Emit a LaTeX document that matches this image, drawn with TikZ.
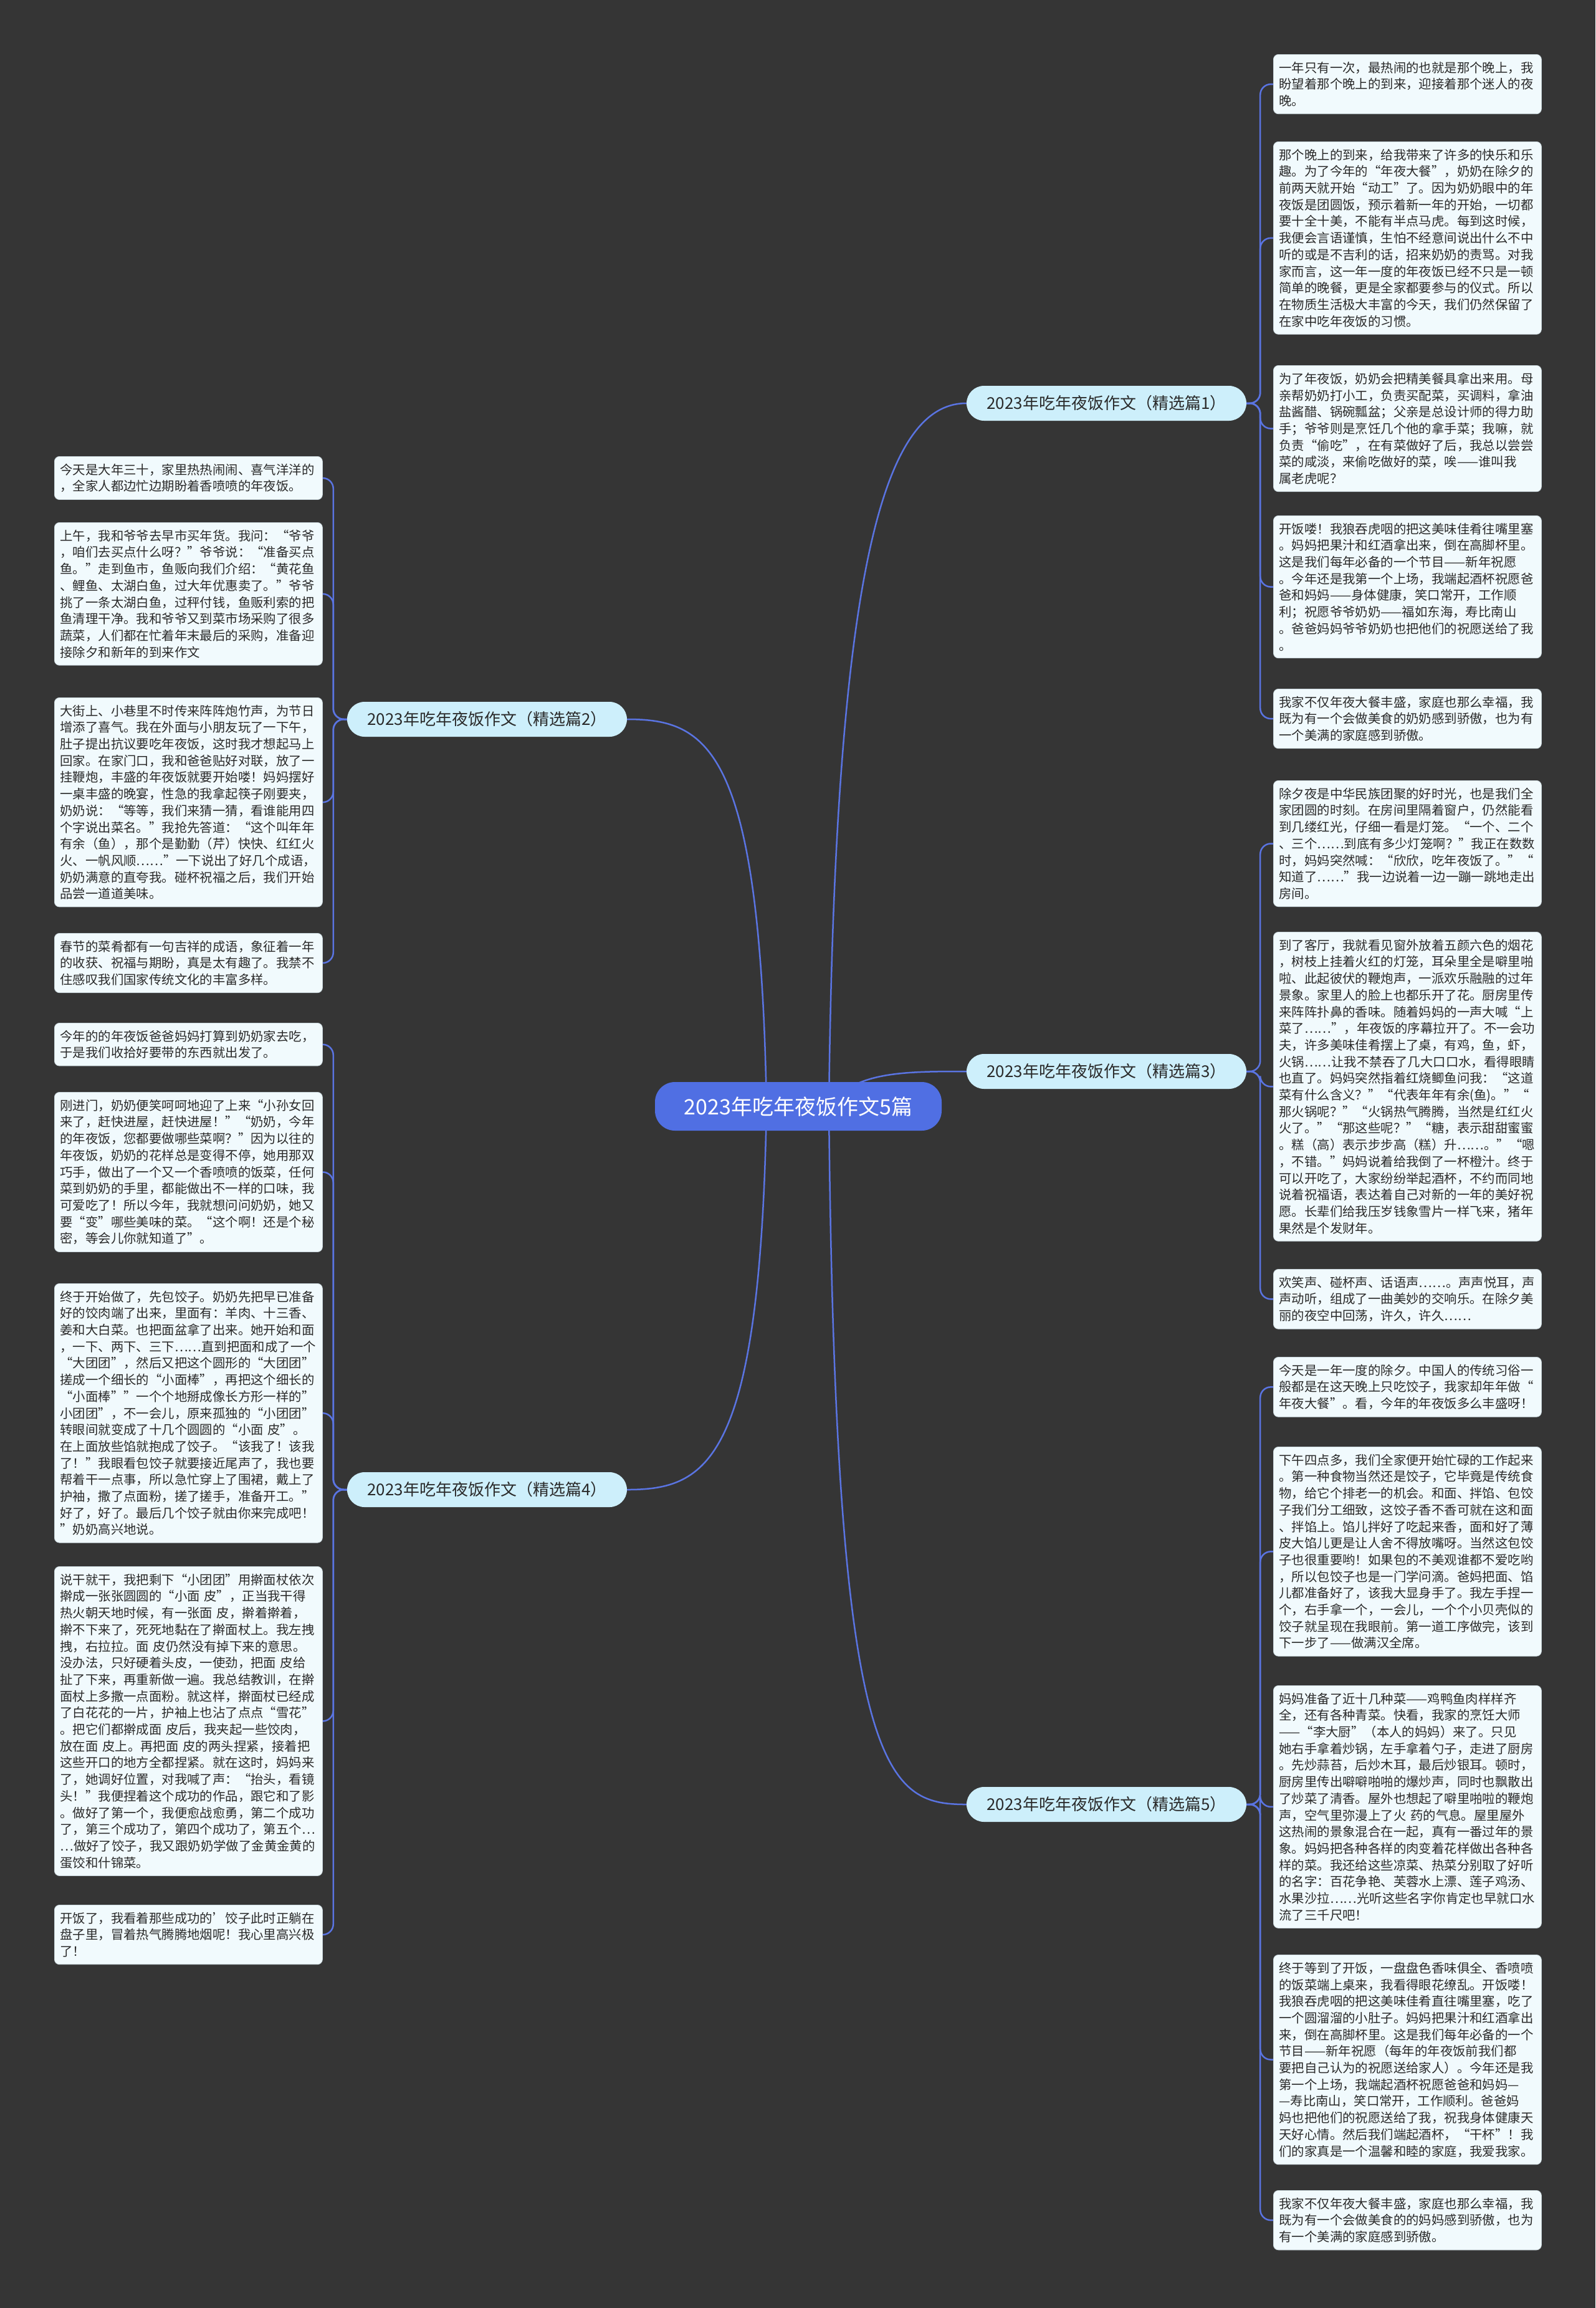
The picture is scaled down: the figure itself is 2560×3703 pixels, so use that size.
\documentclass[tikz,border=0pt]{standalone}
\usepackage{fontspec}
\setmainfont{Noto Sans CJK SC}
\pgfdeclarelayer{bg}
\pgfsetlayers{bg,main}
\definecolor{bgc}{HTML}{353535}
\definecolor{linec}{HTML}{5A74E2}
\definecolor{centerfill}{HTML}{506FE3}
\definecolor{branchfill}{HTML}{CDEFFB}
\definecolor{leaffill}{HTML}{F1FAFD}
\definecolor{leafborder}{HTML}{C9D6DC}
\definecolor{textc}{HTML}{2A2A2A}
\tikzset{
  leaf/.style={draw=leafborder, line width=0.8pt, fill=leaffill, rounded corners=8pt,
    text width=412pt, inner xsep=9pt, inner ysep=11.5pt, align=left, anchor=north west,
    font=\fontsize{20.4pt}{26.7pt}\selectfont, text=textc},
  branch/.style={fill=branchfill, rounded corners=28pt,
    minimum width=449pt, minimum height=56pt, inner sep=0pt,
    font=\fontsize{26pt}{30pt}\selectfont, text=textc},
  root/.style={fill=centerfill, rounded corners=32pt, minimum width=460pt,
    minimum height=78pt, inner sep=0pt, font=\fontsize{34pt}{40pt}\selectfont, text=white},
  conn/.style={draw=linec, line width=2.5pt},
  twig/.style={draw=linec, line width=2.5pt, rounded corners=17pt}
}
\begin{document}
\begin{tikzpicture}[x=1pt,y=-1pt]
\useasboundingbox (0,0) rectangle (2560,3703);
\begin{pgfonlayer}{bg}
\fill[bgc] (0,0) rectangle (2560,3703);
\end{pgfonlayer}

\node[root] (c) at (1281,1775) {2023年吃年夜饭作文5篇};
\coordinate (cR) at (1330,1775);
\coordinate (cL) at (1230,1775);

\node[branch] (b1) at (1775.5,647) {2023年吃年夜饭作文（精选篇1）};
\node[branch] (b3) at (1775.5,1719) {2023年吃年夜饭作文（精选篇3）};
\node[branch] (b5) at (1775.5,2895) {2023年吃年夜饭作文（精选篇5）};
\node[branch] (b2) at (781.5,1154) {2023年吃年夜饭作文（精选篇2）};
\node[branch] (b4) at (781.5,2390) {2023年吃年夜饭作文（精选篇4）};

% ---- right, 1
\node[leaf] (r1a) at (2043,87) {一年只有一次，最热闹的也就是那个晚上，我\\盼望着那个晚上的到来，迎接着那个迷人的夜\\晚。};
\node[leaf] (r1b) at (2043,227) {那个晚上的到来，给我带来了许多的快乐和乐\\趣。为了今年的“年夜大餐”，奶奶在除夕的\\前两天就开始“动工”了。因为奶奶眼中的年\\夜饭是团圆饭，预示着新一年的开始，一切都\\要十全十美，不能有半点马虎。每到这时候，\\我便会言语谨慎，生怕不经意间说出什么不中\\听的或是不吉利的话，招来奶奶的责骂。对我\\家而言，这一年一度的年夜饭已经不只是一顿\\简单的晚餐，更是全家都要参与的仪式。所以\\在物质生活极大丰富的今天，我们仍然保留了\\在家中吃年夜饭的习惯。};
\node[leaf] (r1c) at (2043,586) {为了年夜饭，奶奶会把精美餐具拿出来用。母\\亲帮奶奶打小工，负责买配菜，买调料，拿油\\盐酱醋、锅碗瓢盆；父亲是总设计师的得力助\\手；爷爷则是烹饪几个他的拿手菜；我嘛，就\\负责“偷吃”，在有菜做好了后，我总以尝尝\\菜的咸淡，来偷吃做好的菜，唉——谁叫我\\属老虎呢？};
\node[leaf] (r1d) at (2043,827) {开饭喽！我狼吞虎咽的把这美味佳肴往嘴里塞\\。妈妈把果汁和红酒拿出来，倒在高脚杯里。\\这是我们每年必备的一个节目——新年祝愿\\。今年还是我第一个上场，我端起酒杯祝愿爸\\爸和妈妈——身体健康，笑口常开，工作顺\\利；祝愿爷爷奶奶——福如东海，寿比南山\\。爸爸妈妈爷爷奶奶也把他们的祝愿送给了我\\。};
\node[leaf] (r1e) at (2043,1105) {我家不仅年夜大餐丰盛，家庭也那么幸福，我\\既为有一个会做美食的奶奶感到骄傲，也为有\\一个美满的家庭感到骄傲。};

% ---- right, 3
\node[leaf] (r3a) at (2043,1252) {除夕夜是中华民族团聚的好时光，也是我们全\\家团圆的时刻。在房间里隔着窗户，仍然能看\\到几缕红光，仔细一看是灯笼。“一个、二个\\、三个……到底有多少灯笼啊？”我正在数数\\时，妈妈突然喊：“欣欣，吃年夜饭了。”“\\知道了……”我一边说着一边一蹦一跳地走出\\房间。};
\node[leaf] (r3b) at (2043,1495) {到了客厅，我就看见窗外放着五颜六色的烟花\\，树枝上挂着火红的灯笼，耳朵里全是噼里啪\\啦、此起彼伏的鞭炮声，一派欢乐融融的过年\\景象。家里人的脸上也都乐开了花。厨房里传\\来阵阵扑鼻的香味。随着妈妈的一声大喊“上\\菜了……”，年夜饭的序幕拉开了。不一会功\\夫，许多美味佳肴摆上了桌，有鸡，鱼，虾，\\火锅……让我不禁吞了几大口口水，看得眼睛\\也直了。妈妈突然指着红烧鲫鱼问我：“这道\\菜有什么含义？”“代表年年有余(鱼)。”“\\那火锅呢？”“火锅热气腾腾，当然是红红火\\火了。”“那这些呢？”“糖，表示甜甜蜜蜜\\。糕（高）表示步步高（糕）升……。”“嗯\\，不错。”妈妈说着给我倒了一杯橙汁。终于\\可以开吃了，大家纷纷举起酒杯，不约而同地\\说着祝福语，表达着自己对新的一年的美好祝\\愿。长辈们给我压岁钱象雪片一样飞来，猪年\\果然是个发财年。};
\node[leaf] (r3c) at (2043,2036) {欢笑声、碰杯声、话语声……。声声悦耳，声\\声动听，组成了一曲美妙的交响乐。在除夕美\\丽的夜空中回荡，许久，许久……};

% ---- right, 5
\node[leaf] (r5a) at (2043,2177) {今天是一年一度的除夕。中国人的传统习俗一\\般都是在这天晚上只吃饺子，我家却年年做“\\年夜大餐”。看，今年的年夜饭多么丰盛呀！};
\node[leaf] (r5b) at (2043,2321) {下午四点多，我们全家便开始忙碌的工作起来\\。第一种食物当然还是饺子，它毕竟是传统食\\物，给它个排老一的机会。和面、拌馅、包饺\\子我们分工细致，这饺子香不香可就在这和面\\、拌馅上。馅儿拌好了吃起来香，面和好了薄\\皮大馅儿更是让人舍不得放嘴呀。当然这包饺\\子也很重要哟！如果包的不美观谁都不爱吃哟\\，所以包饺子也是一门学问滴。爸妈把面、馅\\儿都准备好了，该我大显身手了。我左手捏一\\个，右手拿一个，一会儿，一个个小贝壳似的\\饺子就呈现在我眼前。第一道工序做完，该到\\下一步了——做满汉全席。};
\node[leaf] (r5c) at (2043,2704) {妈妈准备了近十几种菜——鸡鸭鱼肉样样齐\\全，还有各种青菜。快看，我家的烹饪大师\\——“李大厨”（本人的妈妈）来了。只见\\她右手拿着炒锅，左手拿着勺子，走进了厨房\\。先炒蒜苔，后炒木耳，最后炒银耳。顿时，\\厨房里传出噼噼啪啪的爆炒声，同时也飘散出\\了炒菜了清香。屋外也想起了噼里啪啦的鞭炮\\声，空气里弥漫上了火 药的气息。屋里屋外\\这热闹的景象混合在一起，真有一番过年的景\\象。妈妈把各种各样的肉变着花样做出各种各\\样的菜。我还给这些凉菜、热菜分别取了好听\\的名字：百花争艳、芙蓉水上漂、莲子鸡汤、\\水果沙拉……光听这些名字你肯定也早就口水\\流了三千尺吧！};
\node[leaf] (r5d) at (2043,3136) {终于等到了开饭，一盘盘色香味俱全、香喷喷\\的饭菜端上桌来，我看得眼花缭乱。开饭喽！\\我狼吞虎咽的把这美味佳肴直往嘴里塞，吃了\\一个圆溜溜的小肚子。妈妈把果汁和红酒拿出\\来，倒在高脚杯里。这是我们每年必备的一个\\节目——新年祝愿（每年的年夜饭前我们都\\要把自己认为的祝愿送给家人）。今年还是我\\第一个上场，我端起酒杯祝愿爸爸和妈妈—\\—寿比南山，笑口常开，工作顺利。爸爸妈\\妈也把他们的祝愿送给了我，祝我身体健康天\\天好心情。然后我们端起酒杯，“干杯”！我\\们的家真是一个温馨和睦的家庭，我爱我家。};
\node[leaf] (r5e) at (2043,3514) {我家不仅年夜大餐丰盛，家庭也那么幸福，我\\既为有一个会做美食的的妈妈感到骄傲，也为\\有一个美满的家庭感到骄傲。};

% ---- left, 2
\node[leaf] (l2a) at (87,732) {今天是大年三十，家里热热闹闹、喜气洋洋的\\，全家人都边忙边期盼着香喷喷的年夜饭。};
\node[leaf] (l2b) at (87,838) {上午，我和爷爷去早市买年货。我问：“爷爷\\，咱们去买点什么呀？”爷爷说：“准备买点\\鱼。”走到鱼市，鱼贩向我们介绍：“黄花鱼\\、鲤鱼、太湖白鱼，过大年优惠卖了。”爷爷\\挑了一条太湖白鱼，过秤付钱，鱼贩利索的把\\鱼清理干净。我和爷爷又到菜市场采购了很多\\蔬菜，人们都在忙着年末最后的采购，准备迎\\接除夕和新年的到来作文};
\node[leaf] (l2c) at (87,1119) {大街上、小巷里不时传来阵阵炮竹声，为节日\\增添了喜气。我在外面与小朋友玩了一下午，\\肚子提出抗议要吃年夜饭，这时我才想起马上\\回家。在家门口，我和爸爸贴好对联，放了一\\挂鞭炮，丰盛的年夜饭就要开始喽！妈妈摆好\\一桌丰盛的晚宴，性急的我拿起筷子刚要夹，\\奶奶说：“等等，我们来猜一猜，看谁能用四\\个字说出菜名。”我抢先答道：“这个叫年年\\有余（鱼），那个是勤勤（芹）快快、红红火\\火、一帆风顺……”一下说出了好几个成语，\\奶奶满意的直夸我。碰杯祝福之后，我们开始\\品尝一道道美味。};
\node[leaf] (l2d) at (87,1497) {春节的菜肴都有一句吉祥的成语，象征着一年\\的收获、祝福与期盼，真是太有趣了。我禁不\\住感叹我们国家传统文化的丰富多样。};

% ---- left, 4
\node[leaf] (l4a) at (87,1641) {今年的的年夜饭爸爸妈妈打算到奶奶家去吃，\\于是我们收拾好要带的东西就出发了。};
\node[leaf] (l4b) at (87,1752) {刚进门，奶奶便笑呵呵地迎了上来“小孙女回\\来了，赶快进屋，赶快进屋！”“奶奶，今年\\的年夜饭，您都要做哪些菜啊？”因为以往的\\年夜饭，奶奶的花样总是变得不停，她用那双\\巧手，做出了一个又一个香喷喷的饭菜，任何\\菜到奶奶的手里，都能做出不一样的口味，我\\可爱吃了！所以今年，我就想问问奶奶，她又\\要“变”哪些美味的菜。“这个啊！还是个秘\\密，等会儿你就知道了”。};
\node[leaf] (l4c) at (87,2059) {终于开始做了，先包饺子。奶奶先把早已准备\\好的饺肉端了出来，里面有：羊肉、十三香、\\姜和大白菜。也把面盆拿了出来。她开始和面\\，一下、两下、三下……直到把面和成了一个\\“大团团”，然后又把这个圆形的“大团团”\\搓成一个细长的“小面棒”，再把这个细长的\\“小面棒””一个个地掰成像长方形一样的”\\小团团”，不一会儿，原来孤独的“小团团”\\转眼间就变成了十几个圆圆的“小面 皮”。\\在上面放些馅就抱成了饺子。“该我了！该我\\了！”我眼看包饺子就要接近尾声了，我也要\\帮着干一点事，所以急忙穿上了围裙，戴上了\\护袖，撒了点面粉，搓了搓手，准备开工。”\\好了，好了。最后几个饺子就由你来完成吧！\\”奶奶高兴地说。};
\node[leaf] (l4d) at (87,2513) {说干就干，我把剩下“小团团”用擀面杖依次\\擀成一张张圆圆的“小面 皮”，正当我干得\\热火朝天地时候，有一张面 皮，擀着擀着，\\擀不下来了，死死地黏在了擀面杖上。我左拽\\拽，右拉拉。面 皮仍然没有掉下来的意思。\\没办法，只好硬着头皮，一使劲，把面 皮给\\扯了下来，再重新做一遍。我总结教训，在擀\\面杖上多撒一点面粉。就这样，擀面杖已经成\\了白花花的一片，护袖上也沾了点点“雪花”\\。把它们都擀成面 皮后，我夹起一些饺肉，\\放在面 皮上。再把面 皮的两头捏紧，接着把\\这些开口的地方全都捏紧。就在这时，妈妈来\\了，她调好位置，对我喊了声：“抬头，看镜\\头！”我便捏着这个成功的作品，跟它和了影\\。做好了第一个，我便愈战愈勇，第二个成功\\了，第三个成功了，第四个成功了，第五个…\\…做好了饺子，我又跟奶奶学做了金黄金黄的\\蛋饺和什锦菜。};
\node[leaf] (l4e) at (87,3056) {开饭了，我看着那些成功的'饺子此时正躺在\\盘子里，冒着热气腾腾地烟呢！我心里高兴极\\了！};

\begin{pgfonlayer}{bg}
% center to branches
\draw[conn] (cR) .. controls +(10,-875) and +(-130,0) .. (b1.west);
\draw[conn] (cR) .. controls +(40,-56) and +(-100,0) .. (b3.west);
\draw[conn] (cR) .. controls +(10,1075) and +(-130,0) .. (b5.west);
\draw[conn] (cL) .. controls +(-10,-575) and +(130,0) .. (b2.east);
\draw[conn] (cL) .. controls +(-10,570) and +(130,0) .. (b4.east);
% branches to leaves
\foreach \b/\l in {b1/r1a,b1/r1b,b1/r1c,b1/r1d,b1/r1e,b3/r3a,b3/r3b,b3/r3c,b5/r5a,b5/r5b,b5/r5c,b5/r5d,b5/r5e}{
  \draw[twig] (\b.east) -- ++(22,0) |- (\l.west);
}
\foreach \b/\l in {b2/l2a,b2/l2b,b2/l2c,b2/l2d,b4/l4a,b4/l4b,b4/l4c,b4/l4d,b4/l4e}{
  \draw[twig] (\b.west) -- ++(-22,0) |- (\l.east);
}
\end{pgfonlayer}
\end{tikzpicture}
\end{document}
